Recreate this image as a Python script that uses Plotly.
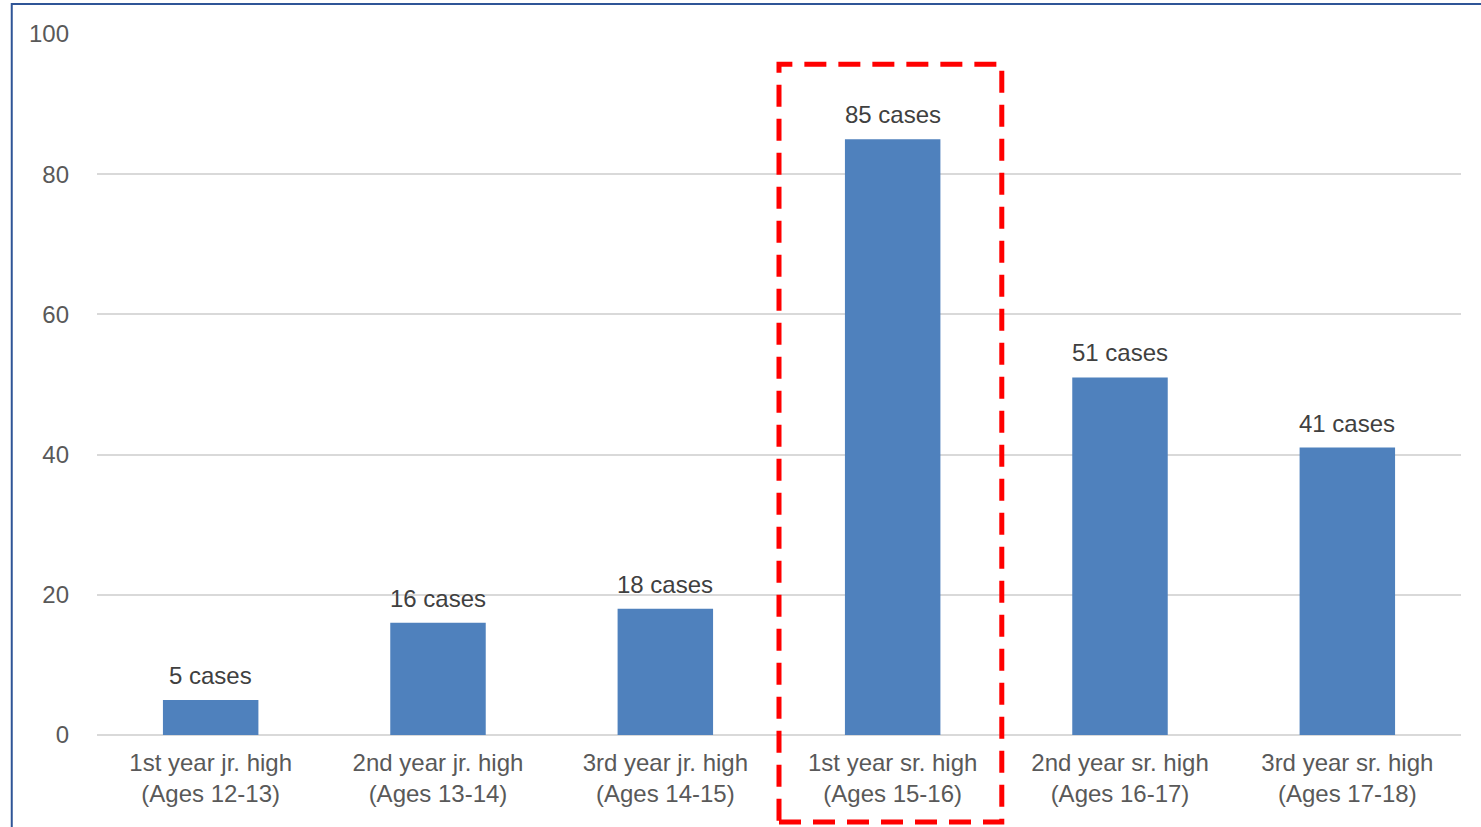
import plotly.graph_objects as go

# School-year categories and reported case counts
grades = ["1st year jr. high", "2nd year jr. high", "3rd year jr. high",
          "1st year sr. high", "2nd year sr. high", "3rd year sr. high"]
ages = ["(Ages 12-13)", "(Ages 13-14)", "(Ages 14-15)",
        "(Ages 15-16)", "(Ages 16-17)", "(Ages 17-18)"]
cases = [5, 16, 18, 85, 51, 41]
y_ticks = [0, 20, 40, 60, 80, 100]
highlight_index = 3

labels = [f"{g}<br>{a}" for g, a in zip(grades, ages)]
xpos = list(range(len(labels)))

FONT = "Liberation Sans, Arial, sans-serif"
TEXT = "#595959"
SIZE = 24

fig = go.Figure(go.Bar(
    x=xpos,
    y=cases,
    marker=dict(color="#4f81bd", line=dict(width=0)),
    width=0.42,
    hovertemplate="%{y} cases<extra></extra>",
))

# value labels above each bar
for x, v in zip(xpos, cases):
    fig.add_annotation(
        x=x, y=v, xref="x", yref="y",
        text=f"{v} cases", showarrow=False,
        yanchor="bottom", yshift=9,
        font=dict(family=FONT, size=SIZE, color="#404040"),
    )

# dashed outline around the highlighted grade
fig.add_shape(
    type="rect", xref="x", yref="paper",
    x0=highlight_index - 0.5, x1=highlight_index + 0.48,
    y0=-0.124, y1=0.957,
    line=dict(color="#ff0000", width=5, dash="22px,12px"),
    fillcolor="rgba(0,0,0,0)", layer="above",
)

# outer frame
fig.add_shape(
    type="rect", xref="paper", yref="paper",
    x0=-0.0625, x1=1.05, y0=-0.3, y1=1.0428,
    line=dict(color="#2f5597", width=2),
    fillcolor="rgba(0,0,0,0)", layer="below",
)

fig.update_layout(
    width=1481, height=827,
    margin=dict(l=97, r=20, t=34, b=92),
    paper_bgcolor="white", plot_bgcolor="white",
    showlegend=False,
    font=dict(family=FONT, size=SIZE, color=TEXT),
)
fig.update_xaxes(
    tickmode="array", tickvals=xpos, ticktext=labels,
    range=[-0.5, len(labels) - 0.5],
    showgrid=False, showline=False, zeroline=False, ticks="",
    ticklabelstandoff=11,
    tickfont=dict(family=FONT, size=SIZE, color=TEXT),
)
fig.update_yaxes(
    range=[0, 100], tickvals=y_ticks,
    showgrid=True, gridcolor="#d9d9d9", gridwidth=1.5,
    zeroline=True, zerolinecolor="#d9d9d9", zerolinewidth=1.5,
    showline=False, ticks="",
    ticklabelstandoff=27,
    tickfont=dict(family=FONT, size=SIZE, color=TEXT),
)

fig.write_html("out.html")
